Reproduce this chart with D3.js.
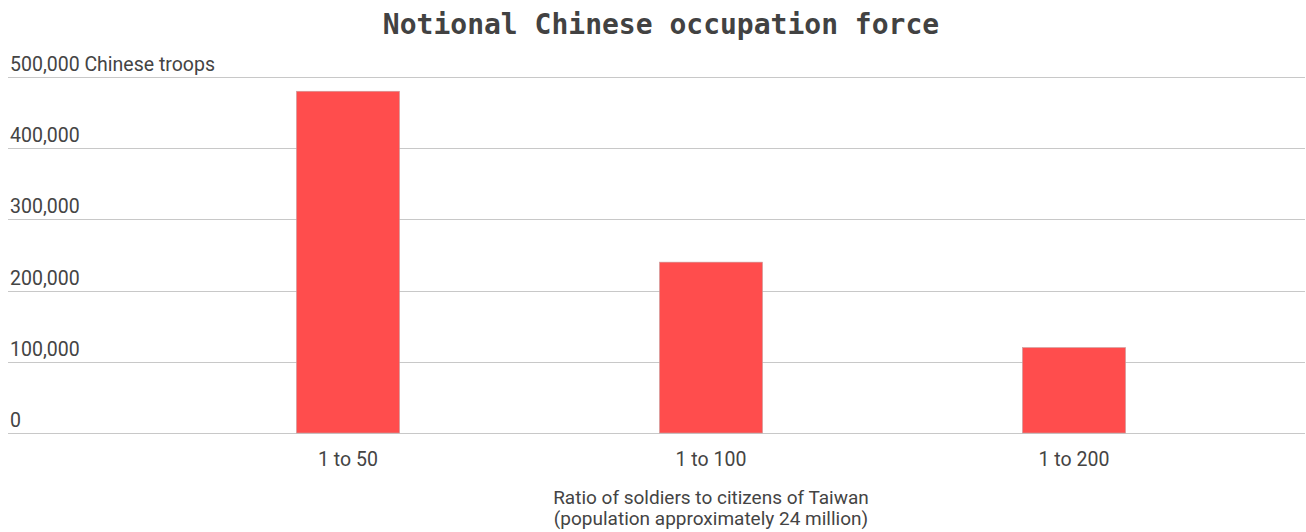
<!DOCTYPE html>
<html>
<head>
<meta charset="utf-8">
<script src="https://cdn.jsdelivr.net/npm/d3@7"></script>
<style>
  body { margin: 0; background: #fff; }
  svg { display: block; }
</style>
</head>
<body>
<div id="chart"></div>
<script>
// data
const ratios = ['1 to 50', '1 to 100', '1 to 200'];
const troops = [480000, 240000, 120000];
const yTicks = [0, 100000, 200000, 300000, 400000, 500000];

const width = 1306, height = 532;

const svg = d3.select('#chart')
  .append('svg')
  .attr('width', width)
  .attr('height', height);

const x = d3.scaleBand()
  .domain(ratios)
  .range([166.5, 1255.5])
  .paddingInner(0.716)
  .paddingOuter(0.358);

const y = d3.scaleLinear()
  .domain([0, 500000])
  .range([433, 77]);

// title
svg.append('text')
  .attr('x', 661)
  .attr('y', 34)
  .attr('text-anchor', 'middle')
  .style('font-family', '"DejaVu Sans Mono", "Liberation Mono", monospace')
  .style('font-weight', 'bold')
  .style('font-size', '28px')
  .style('fill', '#424242')
  .text('Notional Chinese occupation force');

// gridlines
svg.append('g')
  .selectAll('line')
  .data(yTicks)
  .enter().append('line')
  .attr('x1', 8)
  .attr('x2', 1305)
  .attr('y1', d => Math.round(y(d)) + 0.5)
  .attr('y2', d => Math.round(y(d)) + 0.5)
  .attr('stroke', '#c8c8c8')
  .attr('stroke-width', 1);

// y tick labels
const fmt = d3.format(',');
svg.append('g')
  .selectAll('text')
  .data(yTicks)
  .enter().append('text')
  .attr('x', 10)
  .attr('y', d => y(d) - 6)
  .style('font-family', 'Roboto, sans-serif')
  .style('font-size', '19.5px')
  .style('fill', '#444')
  .text(d => d === 500000 ? fmt(d) + ' Chinese troops' : fmt(d));

// bars
svg.append('g')
  .selectAll('rect')
  .data(troops)
  .enter().append('rect')
  .attr('x', (d, i) => x(ratios[i]))
  .attr('width', x.bandwidth())
  .attr('y', d => y(d))
  .attr('height', d => y(0) - y(d))
  .attr('fill', '#ff4d4d')
  .attr('stroke', '#c8a0a0')
  .attr('stroke-width', 0.6);

// x labels
svg.append('g')
  .selectAll('text')
  .data(ratios)
  .enter().append('text')
  .attr('x', d => x(d) + x.bandwidth() / 2)
  .attr('y', 466)
  .attr('text-anchor', 'middle')
  .style('font-family', 'Roboto, sans-serif')
  .style('font-size', '19.5px')
  .style('fill', '#444')
  .text(d => d);

// axis title
const xt = svg.append('text')
  .attr('text-anchor', 'middle')
  .style('font-family', 'Roboto, sans-serif')
  .style('font-size', '19px')
  .style('fill', '#444');
xt.append('tspan').attr('x', 711).attr('y', 504).text('Ratio of soldiers to citizens of Taiwan');
xt.append('tspan').attr('x', 711).attr('y', 525).text('(population approximately 24 million)');
</script>
</body>
</html>
